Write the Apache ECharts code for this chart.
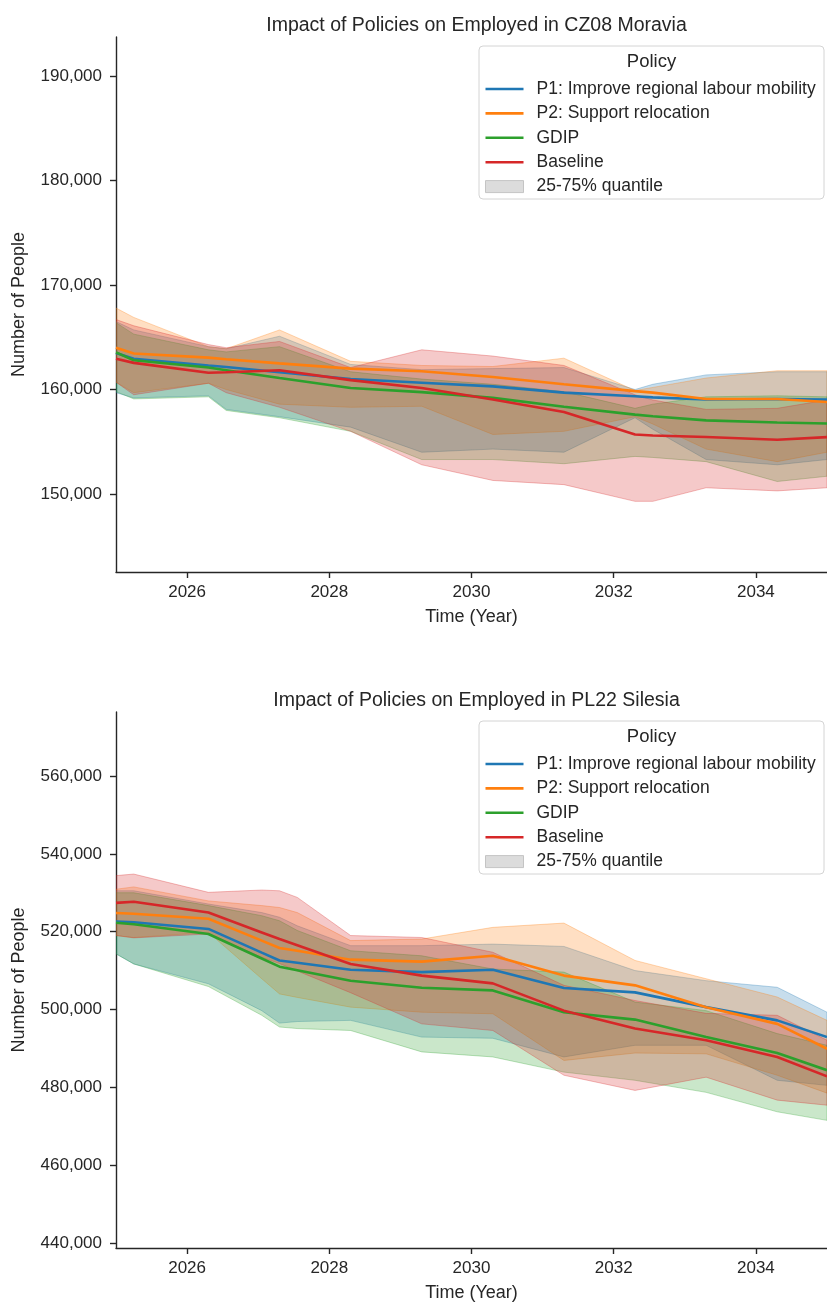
<!DOCTYPE html>
<html>
<head>
<meta charset="utf-8">
<title>Impact of Policies on Employed</title>
<script src="https://cdn.jsdelivr.net/npm/echarts@6/dist/echarts.min.js"></script>
<style>
  html, body { margin: 0; padding: 0; background: #ffffff; }
  #chart { width: 827px; height: 1304px; }
</style>
</head>
<body>
<div id="chart"></div>
<script>
// ---- Policies and legend ----
const policies = ['P1: Improve regional labour mobility', 'P2: Support relocation', 'GDIP', 'Baseline'];
const policyColors = ['#1f77b4', '#ff7f0e', '#2ca02c', '#d62728'];
const quantileLabel = '25-75% quantile';
const legendTitle = 'Policy';
const xAxisTitle = 'Time (Year)';
const yAxisTitle = 'Number of People';
const yearTicks = [2026, 2028, 2030, 2032, 2034];

// ---- CZ08 Moravia (employed persons, mean and 25-75% quantile band) ----
const moraviaYears  = [2025.0, 2025.25, 2026.3, 2026.55, 2027.3, 2028.3, 2029.3, 2030.3, 2031.3, 2032.3, 2032.55, 2033.3, 2034.3, 2035.0];
const moraviaP1Mean = [163500, 162950, 162300, 162150, 161650, 161000, 160650, 160300, 159700, 159350, 159250, 159050, 159100, 159050];
const moraviaP1Lo   = [159700, 159200, 159400, 158100, 157400, 156400, 154000, 154300, 154000, 157300, 156200, 153300, 152800, 153300];
const moraviaP1Hi   = [166500, 165700, 164100, 163900, 165100, 162400, 161900, 162000, 162100, 160000, 160500, 161400, 161700, 161700];
const moraviaP2Mean = [164000, 163450, 163050, 162900, 162500, 162000, 161750, 161200, 160500, 159850, 159700, 159100, 159100, 158800];
const moraviaP2Lo   = [160700, 159700, 160600, 160000, 158600, 158300, 158400, 155700, 156000, 157400, 156700, 154300, 153100, 154000];
const moraviaP2Hi   = [167800, 166900, 164100, 163900, 165700, 162700, 162300, 162200, 163000, 159900, 160200, 161100, 161800, 161800];
const moraviaGdipMean = [163550, 162800, 162100, 161850, 161100, 160150, 159750, 159200, 158350, 157600, 157450, 157050, 156850, 156750];
const moraviaGdipLo   = [159800, 159100, 159300, 158000, 157300, 156000, 153300, 153300, 152900, 153600, 153500, 153100, 151200, 151700];
const moraviaGdipHi   = [166400, 165300, 163800, 163600, 164100, 161700, 161000, 160500, 159800, 158200, 158600, 159300, 159400, 159300];
const moraviaBaseMean = [162950, 162550, 161600, 161650, 161850, 160900, 160150, 159050, 157850, 155700, 155600, 155450, 155200, 155450];
const moraviaBaseLo   = [160700, 159500, 160600, 159700, 158300, 156000, 152800, 151300, 150900, 149300, 149300, 150600, 150300, 150600];
const moraviaBaseHi   = [166700, 166100, 164300, 164000, 164600, 162100, 163800, 163200, 162300, 159500, 159000, 158100, 158200, 159000];
const moraviaTicks = [150000, 160000, 170000, 180000, 190000];

// ---- PL22 Silesia ----
const silesiaYears  = [2025.0, 2025.25, 2026.3, 2027.05, 2027.3, 2027.55, 2028.3, 2029.3, 2030.3, 2031.3, 2032.3, 2033.3, 2034.3, 2035.0];
const silesiaP1Mean = [522600, 522400, 520700, 514600, 512600, 512000, 510200, 509600, 510200, 505500, 504400, 500600, 497200, 492900];
const silesiaP1Lo   = [514300, 511700, 506600, 499700, 496500, 496900, 497200, 492900, 492600, 487800, 490800, 490800, 481800, 480500];
const silesiaP1Hi   = [530500, 530500, 527100, 524900, 523700, 521500, 516400, 516400, 516800, 516200, 510000, 507400, 505700, 499300];
const silesiaP2Mean = [524800, 524600, 523300, 517700, 515800, 515100, 512800, 512300, 513800, 508700, 506200, 500600, 496300, 489900];
const silesiaP2Lo   = [519000, 518500, 519800, 507900, 504000, 503100, 500600, 499300, 498900, 486900, 488800, 488600, 483100, 478500];
const silesiaP2Hi   = [530900, 531500, 527900, 526700, 526200, 524900, 517700, 518100, 521100, 522200, 512600, 507900, 503200, 497200];
const silesiaGdipMean = [522300, 521900, 519400, 513100, 511000, 510100, 507400, 505600, 504900, 499300, 497400, 492900, 488800, 484400];
const silesiaGdipLo   = [514300, 511700, 505900, 498500, 495500, 495100, 494600, 489100, 487800, 483900, 481800, 478700, 473700, 471500];
const silesiaGdipHi   = [530000, 530000, 526700, 524100, 522800, 520300, 515100, 513800, 510400, 509600, 501900, 499700, 493800, 490800];
const silesiaBaseMean = [527400, 527700, 524900, 519800, 518100, 516500, 511700, 508700, 506700, 499700, 495100, 492100, 487800, 482800];
const silesiaBaseLo   = [519000, 518400, 519400, 513400, 511800, 509900, 504300, 496300, 494600, 483100, 479200, 482600, 476700, 475400];
const silesiaBaseHi   = [534400, 534800, 530100, 530700, 530500, 528800, 519000, 518500, 514700, 506200, 502300, 499000, 498500, 492100];
const silesiaTicks = [440000, 460000, 480000, 500000, 520000, 540000, 560000];

// ---- Layout ----
const FONT = '"Liberation Sans", Arial, Helvetica, sans-serif';
const INK = '#262626';
const PLOT_LEFT = 116;
const PLOT_WIDTH = 711;

const panels = [
  {
    title: 'Impact of Policies on Employed in CZ08 Moravia',
    years: moraviaYears,
    mean: [moraviaP1Mean, moraviaP2Mean, moraviaGdipMean, moraviaBaseMean],
    lo:   [moraviaP1Lo, moraviaP2Lo, moraviaGdipLo, moraviaBaseLo],
    hi:   [moraviaP1Hi, moraviaP2Hi, moraviaGdipHi, moraviaBaseHi],
    ticks: moraviaTicks,
    yMin: 142540, yMax: 193730,
    top: 37, height: 535
  },
  {
    title: 'Impact of Policies on Employed in PL22 Silesia',
    years: silesiaYears,
    mean: [silesiaP1Mean, silesiaP2Mean, silesiaGdipMean, silesiaBaseMean],
    lo:   [silesiaP1Lo, silesiaP2Lo, silesiaGdipLo, silesiaBaseLo],
    hi:   [silesiaP1Hi, silesiaP2Hi, silesiaGdipHi, silesiaBaseHi],
    ticks: silesiaTicks,
    yMin: 438700, yMax: 576450,
    top: 712, height: 536
  }
];

function withAlpha(hex, a) {
  const n = parseInt(hex.slice(1), 16);
  return 'rgba(' + ((n >> 16) & 255) + ',' + ((n >> 8) & 255) + ',' + (n & 255) + ',' + a + ')';
}

// One polygon per band: upper edge forward, lower edge backward.
function bandRenderer(color) {
  return function (params, api) {
    if (params.dataIndexInside !== 0) return null;
    const n = params.dataInsideLength;
    const upper = [], lower = [];
    for (let j = 0; j < n; j++) {
      const x = api.value(0, j);
      upper.push(api.coord([x, api.value(2, j)]));
      lower.push(api.coord([x, api.value(1, j)]));
    }
    return {
      type: 'polygon',
      shape: { points: upper.concat(lower.reverse()) },
      style: { fill: withAlpha(color, 0.25), stroke: withAlpha(color, 0.3), lineWidth: 1 }
    };
  };
}

const axisLineStyle = { color: INK, width: 1.4 };

const option = {
  animation: false,
  backgroundColor: '#ffffff',
  textStyle: { fontFamily: FONT, color: INK },
  title: panels.map(p => ({
    text: p.title,
    left: PLOT_LEFT + PLOT_WIDTH / 2,
    textAlign: 'center',
    top: p.top - 26,
    textStyle: { fontFamily: FONT, fontSize: 19.5, fontWeight: 'normal', color: INK }
  })),
  grid: panels.map(p => ({ left: PLOT_LEFT, top: p.top, width: PLOT_WIDTH, height: p.height })),
  xAxis: panels.map((p, i) => ({
    type: 'value', gridIndex: i, min: 2025, max: 2035,
    name: xAxisTitle, nameLocation: 'middle', nameGap: 36,
    nameTextStyle: { fontFamily: FONT, fontSize: 18, color: INK },
    axisLine: { show: true, lineStyle: axisLineStyle },
    axisTick: { show: true, length: 6, lineStyle: axisLineStyle, customValues: yearTicks },
    axisLabel: { customValues: yearTicks, fontFamily: FONT, fontSize: 17, color: INK, margin: 12, formatter: v => String(v) },
    splitLine: { show: false }
  })),
  yAxis: panels.map((p, i) => ({
    type: 'value', gridIndex: i, min: p.yMin, max: p.yMax,
    name: yAxisTitle, nameLocation: 'middle', nameGap: 88, nameRotate: 90,
    nameTextStyle: { fontFamily: FONT, fontSize: 18, color: INK },
    axisLine: { show: true, lineStyle: axisLineStyle },
    axisTick: { show: true, length: 6, lineStyle: axisLineStyle, customValues: p.ticks },
    axisLabel: { customValues: p.ticks, fontFamily: FONT, fontSize: 17, color: INK, margin: 14,
                 formatter: v => Number(v).toLocaleString('en-US') },
    splitLine: { show: false }
  })),
  legend: panels.map(p => ({
    orient: 'vertical',
    left: 485,
    top: p.top + 43,
    padding: 0,
    itemWidth: 38,
    itemHeight: 12,
    itemGap: 6.4,
    symbolKeepAspect: true,
    selectedMode: true,
    textStyle: { fontFamily: FONT, fontSize: 17.5, color: INK, padding: [0, 0, 0, 8] },
    data: policies.map((name, k) => ({
      name: name,
      icon: 'path://M0,0H38V2.6H0Z',
      itemStyle: { color: policyColors[k], borderWidth: 0 }
    })).concat([{
      name: quantileLabel,
      icon: 'rect',
      itemStyle: { color: '#dcdcdc', borderColor: '#c4c4c4', borderWidth: 1 }
    }])
  })),
  graphic: panels.flatMap(p => ([
    {
      type: 'rect', z: 3, silent: true,
      shape: { x: 479, y: p.top + 9, width: 345, height: 153, r: 4 },
      style: { fill: 'rgba(255,255,255,0.8)', stroke: '#d4d4d4', lineWidth: 1 }
    },
    {
      type: 'text', z: 5, silent: true,
      x: 651.5, y: p.top + 25,
      style: { text: legendTitle, fontFamily: FONT, fontSize: 18.5, fill: INK, align: 'center', verticalAlign: 'middle' }
    }
  ])),
  series: []
};

panels.forEach((p, i) => {
  policies.forEach((name, k) => {
    option.series.push({
      type: 'custom',
      name: quantileLabel,
      xAxisIndex: i, yAxisIndex: i,
      z: 1, silent: true, clip: true,
      itemStyle: { color: withAlpha(policyColors[k], 0.25) },
      encode: { x: 0, y: [1, 2] },
      data: p.years.map((x, j) => [x, p.lo[k][j], p.hi[k][j]]),
      renderItem: bandRenderer(policyColors[k])
    });
  });
  policies.forEach((name, k) => {
    option.series.push({
      type: 'line',
      name: name,
      xAxisIndex: i, yAxisIndex: i,
      z: 2, symbol: 'none', clip: true,
      lineStyle: { width: 2.6, color: policyColors[k] },
      itemStyle: { color: policyColors[k] },
      data: p.years.map((x, j) => [x, p.mean[k][j]])
    });
  });
});

const chart = echarts.init(document.getElementById('chart'), null, { renderer: 'canvas' });
chart.setOption(option);
</script>
</body>
</html>
